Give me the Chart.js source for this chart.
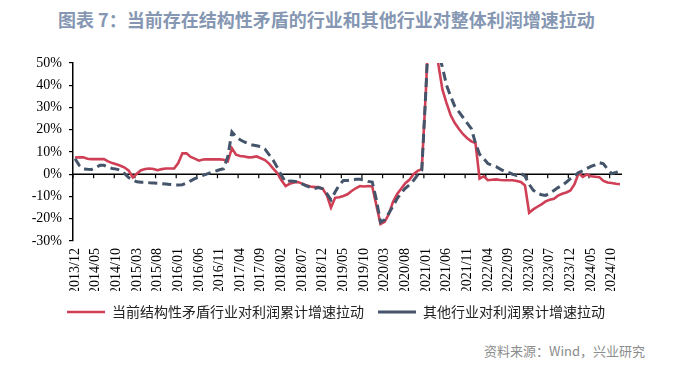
<!DOCTYPE html>
<html><head><meta charset="utf-8">
<script src="https://cdn.jsdelivr.net/npm/chart.js@4/dist/chart.umd.min.js"></script>
<style>
html,body{margin:0;padding:0;background:#fff;width:683px;height:365px;overflow:hidden;position:relative}
#title{position:absolute;left:58px;top:6px;font:bold 18px "Noto Sans CJK SC";color:#8597b2;white-space:nowrap}
#c{position:absolute;left:0;top:0}
#src{position:absolute;right:38px;top:341px;font:13px "Noto Sans CJK SC";color:#8c8c8c;white-space:nowrap}
</style></head>
<body>
<div id="title">图表 7：当前存在结构性矛盾的行业和其他行业对整体利润增速拉动</div>
<canvas id="c" width="683" height="330"></canvas>
<div id="src">资料来源：Wind，兴业研究</div>
<script>
// categories: monthly from 2013/12 to 2024/12
const startYear = 2013, startMonth = 12, monthCount = 133;
const categories = [];
for (let k = 0; k < monthCount; k++) {
  const m = startMonth - 1 + k;
  const yy = startYear + Math.floor(m / 12);
  const mm = (m % 12) + 1;
  categories.push(yy + '/' + String(mm).padStart(2, '0'));
}
const labelEvery = 5;
const yTicks = [-30, -20, -10, 0, 10, 20, 30, 40, 50];

const seriesNames = ['当前结构性矛盾行业对利润累计增速拉动', '其他行业对利润累计增速拉动'];

const structuralIndustries = [
  7.5, 7.6, 7.6, 7.0, 6.8, 6.8, 6.8, 6.8, 5.8, 5.0,
  4.5, 3.8, 3.0, 1.6, -1.4, 0.3, 1.8, 2.4, 2.6, 2.4,
  1.8, 2.3, 2.6, 2.6, 2.6, 5.0, 9.4, 9.4, 7.8, 7.0,
  6.1, 6.6, 6.7, 6.7, 6.7, 6.7, 6.5, 5.8, 11.7, 8.8,
  8.2, 8.0, 7.6, 7.7, 8.0, 7.2, 6.4, 4.8, 2.5, 0.5,
  -2.7, -5.3, -4.3, -3.7, -3.5, -4.2, -5.0, -5.5, -5.8, -5.8,
  -6.5, -9.5, -15.0, -10.6, -10.3, -9.8, -9.0, -7.5, -6.3, -5.3,
  -5.5, -5.3, -5.5, -14.0, -22.4, -21.4, -18.0, -12.5, -9.0, -6.5,
  -4.0, -2.5, 0.0, 1.5, 2.3, 38, 80, 70, 49.5, 38,
  32, 26.5, 23, 20.3, 18, 16.2, 14.8, 14, -2.0, -0.9,
  -2.7, -2.5, -2.3, -2.6, -2.7, -2.7, -2.7, -3.0, -3.5, -5.0,
  -17.3, -15.8, -14.6, -13.5, -12.2, -11.5, -11.0, -9.6, -8.8, -8.2,
  -7.3, -4.5, 0.5, -1.2, -0.1, -0.9, -1.1, -1.3, -3.0, -3.7,
  -3.9, -4.3, -4.5
];

const otherIndustries = [
  7.0, 4.0, 2.4, 2.2, 2.1, 3.0, 4.0, 4.0, 3.2, 2.6,
  2.3, 1.8, 0.3, -1.5, -2.6, -3.4, -3.6, -3.6, -3.8, -3.9,
  -4.0, -4.2, -4.4, -4.6, -4.8, -4.8, -4.7, -4.0, -3.0, -2.0,
  -1.2, -0.5, 0.2, 0.8, 1.4, 2.0, 2.5, 8.0, 19.0, 16.8,
  15.5, 14.5, 13.7, 13.1, 12.8, 12.4, 11.3, 8.8, 6.3, 3.0,
  -0.5, -3.5, -3.0, -3.1, -3.4, -4.3, -5.2, -5.8, -6.4, -6.0,
  -6.5, -8.7, -11.5, -8.0, -4.8, -2.8, -2.8, -2.6, -2.3, -2.3,
  -2.6, -3.2, -3.5, -11.5, -21.5, -20.5, -17.5, -14.5, -11.0, -8.5,
  -6.3, -4.8, -2.8, -0.3, 1.8, 38, 80, 75, 55, 48,
  40, 35, 30.5, 28, 25.5, 23, 20.5, 14, 9, 7,
  4.8, 4.0, 3.4, 2.3, 1.4, 0.8, 0.0, -0.5, 0.3, -0.8,
  -4.5, -7.2, -8.6, -9.2, -9.5, -8.5, -7.3, -6.0, -5.0, -3.6,
  -2.0, -0.7, 0.8, 1.6, 2.6, 3.5, 4.2, 5.2, 4.7, 2.3,
  0.3, 0.8, 1.4
];

const zeroAxis = {
  id: 'zeroAxis',
  beforeDatasetsDraw(chart) {
    const {ctx, chartArea: a, scales: {x, y}} = chart;
    const y0 = y.getPixelForValue(0);
    ctx.save();
    ctx.strokeStyle = '#000';
    ctx.lineWidth = 1.5;
    ctx.beginPath();
    ctx.moveTo(a.left, y0); ctx.lineTo(a.right, y0);
    ctx.stroke();
    const half = (x.getPixelForValue(1) - x.getPixelForValue(0)) / 2;
    ctx.lineWidth = 1.2;
    ctx.beginPath();
    for (let i = 0; i < categories.length; i += labelEvery) {
      const px = x.getPixelForValue(i) - half;
      ctx.moveTo(px, y0); ctx.lineTo(px, y0 + 4);
    }
    ctx.stroke();
    ctx.restore();
  }
};

new Chart(document.getElementById('c'), {
  type: 'line',
  data: {
    labels: categories,
    datasets: [
      { label: seriesNames[0], data: structuralIndustries, borderColor: '#cf3f55', backgroundColor: '#cf3f55',
        borderWidth: 2.6, pointRadius: 0, tension: 0, order: 1, yAxisID: 'y' },
      { label: seriesNames[1], data: otherIndustries, borderColor: '#44546a', backgroundColor: '#44546a',
        borderWidth: 3, borderDash: [9, 5], pointRadius: 0, tension: 0, order: 0, yAxisID: 'y' }
    ]
  },
  options: {
    responsive: false,
    animation: false,
    layout: { padding: { left: 0, right: 11, top: 63, bottom: 1 } },
    plugins: {
      legend: {
        position: 'bottom',
        labels: { usePointStyle: true, pointStyle: 'line', pointStyleWidth: 38, color: '#222',
          font: { family: 'Noto Sans CJK SC', size: 14 }, padding: 14,
          sort: (a, b) => a.datasetIndex - b.datasetIndex }
      },
      tooltip: { enabled: false }
    },
    scales: {
      x: {
        offset: true,
        grid: { display: false, drawTicks: false },
        border: { display: false },
        ticks: {
          autoSkip: false, maxRotation: 90, minRotation: 90, padding: 7, color: '#000',
          font: { family: 'Liberation Serif', size: 14 },
          callback: function (v, i) { return i % labelEvery === 0 ? this.getLabelForValue(v) : ''; }
        },
        afterFit(s) { s.height = 50; }
      },
      y: {
        position: 'left',
        min: yTicks[0], max: yTicks[yTicks.length - 1],
        afterBuildTicks(s) { s.ticks = yTicks.map(v => ({ value: v })); },
        ticks: { color: '#000', padding: 7, font: { family: 'Liberation Serif', size: 14 },
          callback: v => v + '%' },
        grid: { drawOnChartArea: false, drawTicks: true, tickLength: 4, color: '#000', lineWidth: 1.2 },
        border: { color: '#000', width: 1.5 },
        afterFit(s) { s.width = 73; }
      },
      spacer: {
        type: 'linear', position: 'right', display: true,
        grid: { display: false, drawTicks: false }, border: { display: false },
        ticks: { display: false },
        afterFit(s) { s.width = 50; }
      }
    }
  },
  plugins: [zeroAxis]
});
</script>
</body></html>
